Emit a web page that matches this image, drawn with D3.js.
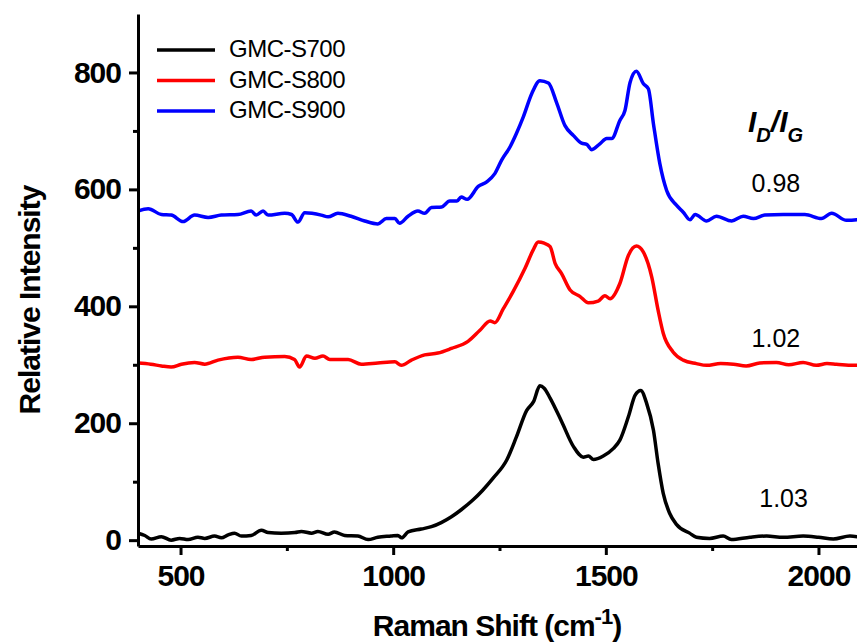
<!DOCTYPE html>
<html>
<head>
<meta charset="utf-8">
<script src="https://cdn.jsdelivr.net/npm/d3@7"></script>
<style>
  body { margin: 0; background: #fff; }
  svg { display: block; font-family: "Liberation Sans", Arial, sans-serif; }
</style>
</head>
<body>
<script>
const width = 857;
const height = 644;

// Raman spectra: [shift (cm-1), relative intensity]
const s700 = [[400,12],[416,8],[431,2],[455,6],[478,0],[498,3],[518,1],[541,5],[557,3],[580,7],[596,4],[612,9],[627,12],[643,7],[666,8],[690,17],[706,13],[737,12],[769,13],[784,15],[808,12],[823,15],[847,10],[862,14],[886,8],[917,7],[941,1],[964,5],[995,7],[1011,8],[1020,4],[1035,14],[1066,19],[1090,23],[1113,30],[1137,40],[1160,52],[1188,69],[1210,85],[1235,106],[1267,137],[1290,177],[1314,222],[1330,237],[1345,264],[1355,260],[1369,243],[1396,203],[1424,160],[1447,142],[1459,144],[1471,138],[1494,144],[1518,157],[1533,171],[1553,211],[1569,248],[1582,256],[1596,234],[1612,188],[1623,131],[1635,80],[1650,46],[1666,27],[1697,12],[1713,5],[1744,3],[1776,7],[1795,1],[1839,5],[1878,7],[1917,5],[1964,7],[2000,5],[2035,2],[2074,7],[2100,5]];

const s800 = [[400,303],[430,301],[455,298],[478,296],[502,301],[533,304],[557,301],[588,308],[635,313],[666,309],[698,313],[745,314],[768,309],[780,296],[796,315],[816,311],[835,315],[851,309],[894,309],[925,301],[964,303],[1004,305],[1019,299],[1043,308],[1074,317],[1105,320],[1137,328],[1176,340],[1204,359],[1228,375],[1239,372],[1259,396],[1282,425],[1310,465],[1329,496],[1341,510],[1355,508],[1369,502],[1381,473],[1396,456],[1416,428],[1439,417],[1459,406],[1482,409],[1498,418],[1510,413],[1533,439],[1553,487],[1572,503],[1588,493],[1608,450],[1623,393],[1635,354],[1658,322],[1682,308],[1713,302],[1737,299],[1770,302],[1800,301],[1830,298],[1862,303],[1901,304],[1930,300],[1964,304],[1995,299],[2020,302],[2042,301],[2081,299],[2100,300]];

const s900 = [[400,563],[424,567],[455,557],[478,556],[506,545],[533,556],[565,552],[596,556],[635,557],[666,563],[678,556],[694,563],[706,556],[745,559],[761,557],[776,544],[792,560],[831,556],[847,553],[870,559],[901,554],[933,546],[964,541],[984,550],[1004,550],[1015,542],[1035,554],[1058,563],[1074,559],[1090,569],[1114,570],[1133,580],[1150,580],[1160,587],[1174,583],[1200,605],[1220,613],[1239,627],[1255,650],[1275,673],[1290,696],[1306,724],[1326,764],[1345,786],[1365,782],[1384,749],[1404,709],[1424,692],[1443,679],[1455,677],[1467,668],[1486,678],[1502,687],[1514,687],[1533,718],[1545,735],[1557,783],[1572,802],[1588,781],[1600,772],[1612,712],[1627,644],[1643,598],[1666,573],[1682,561],[1698,548],[1710,557],[1737,546],[1760,554],[1796,546],[1823,554],[1847,550],[1874,556],[1917,557],[1968,557],[2007,550],[2031,559],[2066,547],[2090,548],[2100,550]];

const seriesNames = ["GMC-S700", "GMC-S800", "GMC-S900"];
const seriesColors = ["#000000", "#ff0000", "#0000ff"];
const ratios = ["1.03", "1.02", "0.98"];
// where each ratio label sits, in data units [shift, intensity]
const ratioAt = [[1918, 57], [1900, 330], [1900, 596]];

const xTicks = [500, 1000, 1500, 2000];
const xMinor = [750, 1250, 1750];
const yTicks = [0, 200, 400, 600, 800];
const yMinor = [100, 300, 500, 700];

const margin = {left: 138, top: 14, right: -4, bottom: 98};

const x = d3.scaleLinear()
      .domain([400, 2100])
      .range([margin.left, width - margin.right]);

const y = d3.scaleLinear()
      .domain([-10, 900])
      .range([height - margin.bottom, margin.top]);

const svg = d3.select("body")
      .append("svg")
      .attr("width", width)
      .attr("height", height);

svg.append("clipPath")
    .attr("id", "plot")
    .append("rect")
    .attr("x", margin.left)
    .attr("y", margin.top)
    .attr("width", width - margin.right - margin.left)
    .attr("height", height - margin.bottom - margin.top);

const line = d3.line()
      .x(d => x(d[0]))
      .y(d => y(d[1]))
      .curve(d3.curveMonotoneX);

svg.append("g")
    .attr("clip-path", "url(#plot)")
    .selectAll("path")
    .data([s700, s800, s900])
    .join("path")
    .attr("fill", "none")
    .attr("stroke", (d, i) => seriesColors[i])
    .attr("stroke-width", 3.5)
    .attr("stroke-linejoin", "round")
    .attr("d", line);

// axes
svg.append("g")
    .attr("transform", `translate(0,${height - margin.bottom})`)
    .call(d3.axisBottom(x).tickValues(xTicks).tickFormat(d3.format("d"))
          .tickSize(9).tickSizeOuter(0).tickPadding(10));

svg.append("g")
    .attr("transform", `translate(0,${height - margin.bottom})`)
    .call(d3.axisBottom(x).tickValues(xMinor).tickSize(5).tickFormat(""))
    .call(g => g.select(".domain").remove());

svg.append("g")
    .attr("transform", `translate(${margin.left},0)`)
    .call(d3.axisLeft(y).tickValues(yTicks).tickFormat(d3.format("d"))
          .tickSize(9).tickSizeOuter(0).tickPadding(8));

svg.append("g")
    .attr("transform", `translate(${margin.left},0)`)
    .call(d3.axisLeft(y).tickValues(yMinor).tickSize(5).tickFormat(""))
    .call(g => g.select(".domain").remove());

svg.selectAll(".domain").attr("stroke-width", 3);
svg.selectAll(".tick line").attr("stroke-width", 3);
svg.selectAll(".tick text")
    .attr("font-family", "'Liberation Sans', Arial, sans-serif")
    .attr("font-size", 30)
    .attr("font-weight", "bold")
    .attr("fill", "#000")
    .attr("letter-spacing", -1);

// axis titles
svg.append("text")
    .attr("transform", "translate(40,300) rotate(-90)")
    .attr("text-anchor", "middle")
    .attr("font-size", 30)
    .attr("font-weight", "bold")
    .attr("letter-spacing", -1)
    .text("Relative Intensity");

const xTitle = svg.append("text")
      .attr("x", 497)
      .attr("y", 636)
      .attr("text-anchor", "middle")
      .attr("font-size", 30)
      .attr("font-weight", "bold")
      .attr("letter-spacing", -1);
xTitle.append("tspan").text("Raman Shift (cm");
xTitle.append("tspan").attr("font-size", 22).attr("dy", -12).text("-1");
xTitle.append("tspan").attr("dy", 12).text(")");

// legend
const legend = svg.append("g")
      .selectAll("g")
      .data(seriesNames)
      .join("g")
      .attr("transform", (d, i) => `translate(157,${50 + i * 30.5})`);

legend.append("line")
    .attr("x2", 58)
    .attr("stroke", (d, i) => seriesColors[i])
    .attr("stroke-width", 3.5);

legend.append("text")
    .attr("x", 72)
    .attr("y", 7)
    .attr("font-size", 24)
    .attr("letter-spacing", -0.5)
    .text(d => d);

// I_D/I_G ratio annotation
const ratioTitle = svg.append("text")
      .attr("x", 748)
      .attr("y", 132)
      .attr("font-weight", "bold")
      .attr("font-style", "italic")
      .attr("font-size", 30);
ratioTitle.append("tspan").text("I");
ratioTitle.append("tspan").attr("font-size", 20).attr("dy", 10).text("D");
ratioTitle.append("tspan").attr("dy", -10).text("/I");
ratioTitle.append("tspan").attr("font-size", 20).attr("dy", 10).text("G");

svg.append("g")
    .selectAll("text")
    .data(ratios)
    .join("text")
    .attr("x", (d, i) => x(ratioAt[i][0]))
    .attr("y", (d, i) => y(ratioAt[i][1]))
    .attr("text-anchor", "middle")
    .attr("font-size", 25)
    .text(d => d);
</script>
</body>
</html>
